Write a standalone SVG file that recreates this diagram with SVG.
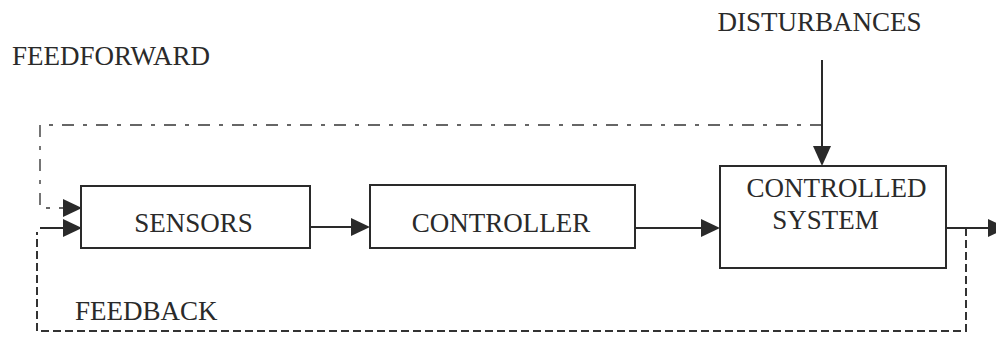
<svg xmlns="http://www.w3.org/2000/svg" width="996" height="337" viewBox="0 0 996 337">
<style>
.box{fill:#fff;stroke:#2a2a2a;stroke-width:2}
.t{font-family:"Liberation Serif","Times New Roman",serif;font-size:27px;fill:#2a2a2a}
.ln{fill:none;stroke:#2a2a2a;stroke-width:2}
.dash{fill:none;stroke:#333;stroke-width:2;stroke-dasharray:8 4}
.ff{fill:none;stroke:#666;stroke-width:1.8;stroke-dasharray:12 9 4 9}
.ah{fill:#2a2a2a}
</style>
<rect width="996" height="337" fill="#fff"/>
<g id="connectors">
<path class="ff" d="M822,125 H40 V208 H64"/>
<path class="ln" d="M40,228 H64"/>
<path class="dash" d="M966,228 V331 H37 V232"/>
<path class="ln" d="M310,227 H353"/>
<path class="ln" d="M635,228 H703"/>
<path class="ln" d="M946,228 H990"/>
<path class="ln" d="M822,60 V148"/>
<polygon class="ah" points="63,199 82,208 63,217"/>
<polygon class="ah" points="63,219 82,228 63,237"/>
<polygon class="ah" points="351,218 370,227 351,236"/>
<polygon class="ah" points="701,219 720,228 701,237"/>
<polygon class="ah" points="988,219 1007,228 988,237"/>
<polygon class="ah" points="813,146 822,166 831,146"/>
</g>
<g id="sensors">
<rect class="box" x="81" y="186" width="229" height="62"/>
<text class="t" x="193.5" y="232" text-anchor="middle">SENSORS</text>
</g>
<g id="controller">
<rect class="box" x="370" y="185" width="265" height="63"/>
<text class="t" x="501" y="232" text-anchor="middle">CONTROLLER</text>
</g>
<g id="controlled-system">
<rect class="box" x="720" y="166" width="226" height="102"/>
<text class="t" x="836.5" y="197" text-anchor="middle">CONTROLLED</text>
<text class="t" x="825.5" y="229" text-anchor="middle">SYSTEM</text>
</g>
<g id="labels">
<text class="t" x="819.5" y="31" text-anchor="middle">DISTURBANCES</text>
<text class="t" x="12" y="65">FEEDFORWARD</text>
<text class="t" x="75" y="320">FEEDBACK</text>
</g>
</svg>
